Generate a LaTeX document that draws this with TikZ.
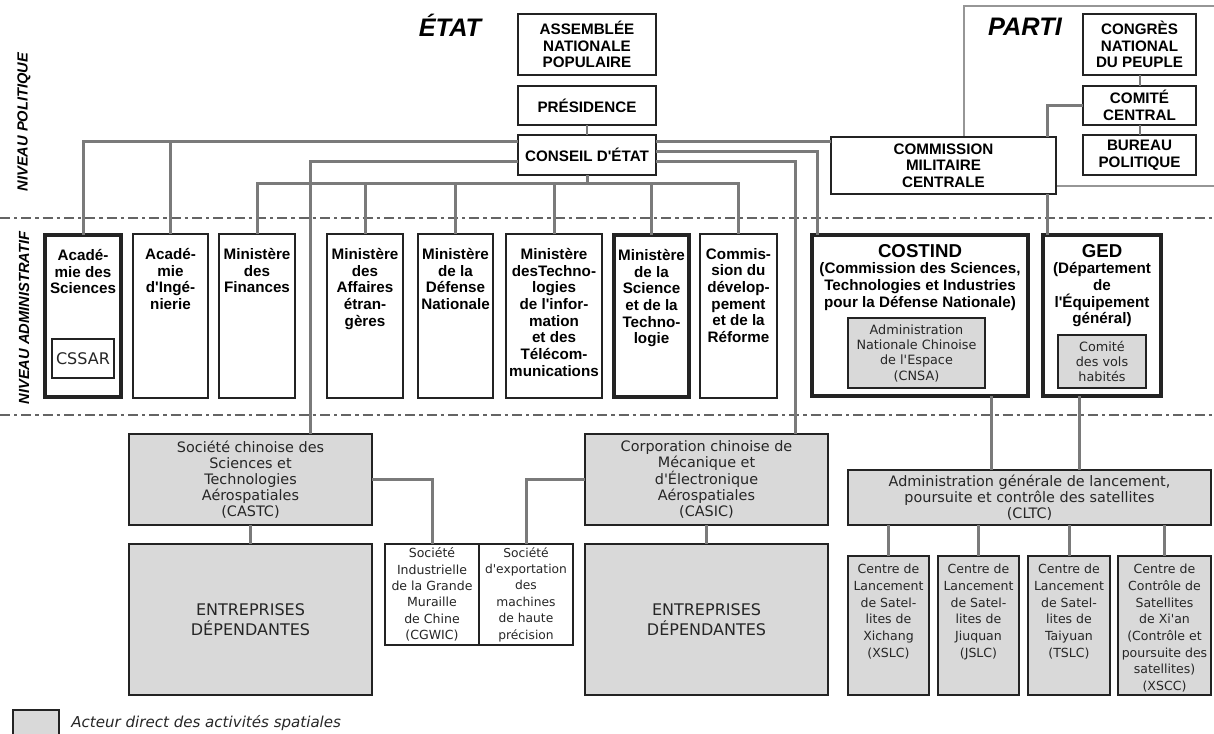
\documentclass[tikz,border=0pt]{standalone}
\usepackage{fontspec}
\setmainfont{DejaVu Sans}
\newfontfamily\headfont{Liberation Sans}
\usepackage{tikz}
\usetikzlibrary{positioning}
\newlength{\pxu}
\setlength{\pxu}{0.75pt}
\newcommand{\aposq}{\textquotesingle}
\definecolor{boxgrey}{RGB}{217,217,217}
\definecolor{linkgray}{RGB}{122,122,122}
\definecolor{boxline}{RGB}{35,35,35}
\definecolor{levelgray}{RGB}{100,100,100}
\definecolor{framegray}{RGB}{150,150,150}
\tikzset{
wh/.style 2 args={minimum width=#1\pxu, minimum height=#2\pxu},
top_box/.style={rectangle, draw=boxline, line width=1.2pt, fill=white, align=center, inner sep=0pt, outer sep=0pt, font=\headfont\bfseries\fontsize{11.4}{12.5}\selectfont},
thick_box/.style={top_box, line width=3pt},
grey_box/.style={rectangle, draw=boxline, line width=1.2pt, fill=boxgrey, text=black!85, align=center, inner sep=0pt, outer sep=0pt, font=\fontsize{10.8}{12}\selectfont},
white_box/.style={grey_box, fill=white},
head_text/.style={align=center, inner sep=0pt, font=\headfont\bfseries\fontsize{11.4}{12.5}\selectfont},
centre_text/.style={align=center, inner sep=0pt, text=black!85, font=\fontsize{9.4}{12.5}\selectfont},
title_text/.style={inner sep=0pt, font=\headfont\bfseries\itshape\fontsize{19}{22}\selectfont},
level_label/.style={inner sep=0pt, font=\headfont\bfseries\itshape\fontsize{11}{13}\selectfont},
legend_text/.style={inner sep=0pt, text=black!85, font=\itshape\fontsize{11.3}{13}\selectfont},
link/.style={draw=linkgray, line width=2.25pt},
thin_link/.style={draw=linkgray, line width=1.5pt},
level_line/.style={draw=levelgray, line width=1.1pt, dash pattern=on 7.5pt off 3pt on 2.5pt off 3pt},
party_frame/.style={draw=framegray, line width=0.8pt}
}
\begin{document}
\begin{tikzpicture}[x=0.75pt, y=-0.75pt]
\useasboundingbox (0,0) rectangle (1214,733);

% niveaux
\draw[level_line] (0,218) -- (1214,218);
\draw[level_line] (0,415) -- (1214,415);
\node[level_label, rotate=90] (niv_pol) at (24,122) {NIVEAU POLITIQUE};
\node[level_label, rotate=90] (niv_adm) at (24,318) {NIVEAU ADMINISTRATIF};

% parti
\draw[party_frame] (964,6) rectangle (1224,186);
\node[title_text] (parti) at (1025,27) {PARTI};
\node[top_box, wh={113}{61}] (congres) at (1139.5,44.5) {CONGRÈS\\NATIONAL\\DU PEUPLE};
\node[top_box, wh={113}{39}] (comite) at (1139.5,105.5) {COMITÉ\\CENTRAL};
\node[top_box, wh={113}{40}] (bureau) at (1139.5,155) {BUREAU\\POLITIQUE};
\node[top_box, wh={225}{57}] (cmc) at (943.5,165.5) {COMMISSION\\MILITAIRE\\CENTRALE};

% etat
\node[title_text] (etat) at (450,25) {ÉTAT};
\node[top_box, wh={138}{61}] (assemblee) at (587,44.5) {ASSEMBLÉE\\NATIONALE\\POPULAIRE};
\node[top_box, wh={138}{39}] (presidence) at (587,105.5) {PRÉSIDENCE};
\node[top_box, wh={138}{40}] (conseil) at (587,155) {CONSEIL D\aposq ÉTAT};

% niveau administratif
\node[thick_box, wh={76}{162}] (acad_sci) at (83,316) {};
\node[head_text, below=14\pxu of acad_sci.north] (acad_sci_t) {Acadé-\\mie des\\Sciences};
\node[white_box, wh={62}{39}, font=\fontsize{12}{14}\selectfont] (cssar) at (83,358.5) {CSSAR};
\node[top_box, wh={75}{164}] (acad_ing) at (170.5,316) {};
\node[head_text, below=14\pxu of acad_ing.north] (acad_ing_t) {Acadé-\\mie\\d\aposq Ingé-\\nierie};
\node[top_box, wh={76}{164}] (finances) at (257,316) {};
\node[head_text, below=14\pxu of finances.north] (finances_t) {Ministère\\des\\Finances};
\node[top_box, wh={76}{164}] (affaires) at (365,316) {};
\node[head_text, below=14\pxu of affaires.north] (affaires_t) {Ministère\\des\\Affaires\\étran-\\gères};
\node[top_box, wh={75}{164}] (defense) at (455.5,316) {};
\node[head_text, below=14\pxu of defense.north] (defense_t) {Ministère\\de la\\Défense\\Nationale};
\node[top_box, wh={96}{164}] (telecom) at (554,316) {};
\node[head_text, below=14\pxu of telecom.north] (telecom_t) {Ministère\\desTechno-\\logies\\de l\aposq infor-\\mation\\et des\\Télécom-\\munications};
\node[thick_box, wh={75}{162}] (science) at (651.5,316) {};
\node[head_text, below=14\pxu of science.north] (science_t) {Ministère\\de la\\Science\\et de la\\Techno-\\logie};
\node[top_box, wh={77}{164}] (commission) at (738.5,316) {};
\node[head_text, below=14\pxu of commission.north] (commission_t) {Commis-\\sion du\\dévelop-\\pement\\et de la\\Réforme};

\node[thick_box, wh={216}{161}] (costind) at (920,315.5) {};
\node[head_text, below=9\pxu of costind.north] (costind_t) {{\fontsize{14}{15}\selectfont COSTIND}\\(Commission des Sciences,\\Technologies et Industries\\pour la Défense Nationale)};
\node[grey_box, wh={137}{70}, font=\fontsize{9.6}{11.5}\selectfont] (cnsa) at (916.5,353) {Administration\\Nationale Chinoise\\de l\aposq Espace\\(CNSA)};
\node[thick_box, wh={118}{161}] (ged) at (1102,315.5) {};
\node[head_text, below=9\pxu of ged.north] (ged_t) {{\fontsize{14}{15}\selectfont GED}\\(Département\\de\\l\aposq Équipement\\général)};
\node[grey_box, wh={88}{53}, font=\fontsize{9.6}{11.5}\selectfont] (vols) at (1102,361.5) {Comité\\des vols\\habités};

% entreprises
\node[grey_box, wh={243}{91}] (castc) at (250.5,479.5) {Société chinoise des\\Sciences et\\Technologies\\Aérospatiales\\(CASTC)};
\node[grey_box, wh={243}{151}, font=\fontsize{12}{15}\selectfont] (ent_castc) at (250.5,619.5) {ENTREPRISES\\DÉPENDANTES};
\node[white_box, wh={94}{101}, font=\fontsize{9.4}{12.3}\selectfont] (cgwic) at (432,594.5) {Société\\Industrielle\\de la Grande\\Muraille\\de Chine\\(CGWIC)};
\node[white_box, wh={94}{101}, font=\fontsize{9.2}{12.3}\selectfont] (export) at (526,594.5) {Société\\d\aposq exportation\\des\\machines\\de haute\\précision};
\node[grey_box, wh={243}{91}] (casic) at (706.5,479.5) {Corporation chinoise de\\Mécanique et\\d\aposq Électronique\\Aérospatiales\\(CASIC)};
\node[grey_box, wh={243}{151}, font=\fontsize{12}{15}\selectfont] (ent_casic) at (706.5,619.5) {ENTREPRISES\\DÉPENDANTES};

% lancement
\node[grey_box, wh={363}{55}] (cltc) at (1029.5,497.5) {Administration générale de lancement,\\poursuite et contrôle des satellites\\(CLTC)};
\node[grey_box, wh={81}{139}] (xslc) at (888.5,625.5) {};
\node[centre_text, below=8\pxu of xslc.north] (xslc_t) {Centre de\\Lancement\\de Satel-\\lites de\\Xichang\\(XSLC)};
\node[grey_box, wh={81}{139}] (jslc) at (978.5,625.5) {};
\node[centre_text, below=8\pxu of jslc.north] (jslc_t) {Centre de\\Lancement\\de Satel-\\lites de\\Jiuquan\\(JSLC)};
\node[grey_box, wh={82}{139}] (tslc) at (1069,625.5) {};
\node[centre_text, below=8\pxu of tslc.north] (tslc_t) {Centre de\\Lancement\\de Satel-\\lites de\\Taiyuan\\(TSLC)};
\node[grey_box, wh={93}{139}] (xscc) at (1164.5,625.5) {};
\node[centre_text, below=8\pxu of xscc.north] (xscc_t) {Centre de\\Contrôle de\\Satellites\\de Xi\aposq an\\(Contrôle et\\poursuite des\\satellites)\\(XSCC)};

% liaisons
\draw[thin_link] (presidence.south) -- (conseil.north);
\coordinate (cmc_in) at ([yshift=24.5\pxu]cmc.west);
\draw[link] (acad_sci.north) |- (conseil.west |- cmc_in);
\draw[link] (acad_ing.north) |- (conseil.west |- cmc_in);
\draw[link] (conseil.east |- cmc_in) -- (cmc_in);
\draw[link] ([yshift=-6\pxu]conseil.west) -| ([xshift=59.5\pxu]castc.north);
\draw[link] ([yshift=4\pxu]conseil.east) -| ([xshift=-103\pxu]costind.north);
\draw[link] ([yshift=-6\pxu]conseil.east) -| ([xshift=88.5\pxu]casic.north);
\coordinate (mini_bus) at (587,183);
\draw[link] (conseil.south) -- (mini_bus);
\draw[link] (finances.north) |- (mini_bus);
\draw[link] (affaires.north) |- (mini_bus);
\draw[link] (defense.north) |- (mini_bus);
\draw[link] (telecom.north) |- (mini_bus);
\draw[link] (science.north) |- (mini_bus);
\draw[link] (commission.north) |- (mini_bus);

\draw[thin_link] (congres.south) -- (comite.north);
\draw[thin_link] (comite.south) -- (bureau.north);
\draw[link] (comite.west) -| ([xshift=103.5\pxu]cmc.north);
\draw[link] ([xshift=103.5\pxu]cmc.south) -- ([xshift=-55\pxu]ged.north);

\coordinate (costind_out) at ([xshift=71\pxu]costind.south);
\coordinate (ged_out) at ([xshift=-23\pxu]ged.south);
\draw[link] (costind_out) -- (costind_out |- cltc.north);
\draw[link] (ged_out) -- (ged_out |- cltc.north);
\draw[link] (xslc.north) -- (xslc.north |- cltc.south);
\draw[link] (jslc.north) -- (jslc.north |- cltc.south);
\draw[link] (tslc.north) -- (tslc.north |- cltc.south);
\draw[link] (xscc.north) -- (xscc.north |- cltc.south);

\draw[link] (castc.south) -- (ent_castc.north);
\draw[link] (castc.east) -| (cgwic.north);
\draw[link] (casic.west) -| (export.north);
\draw[link] (casic.south) -- (ent_casic.north);

% legende
\node[grey_box, wh={46}{26}] (legend_box) at (36,723) {};
\node[legend_text, right=12\pxu of legend_box.east] (legend_t) {Acteur direct des activités spatiales};
\end{tikzpicture}
\end{document}
